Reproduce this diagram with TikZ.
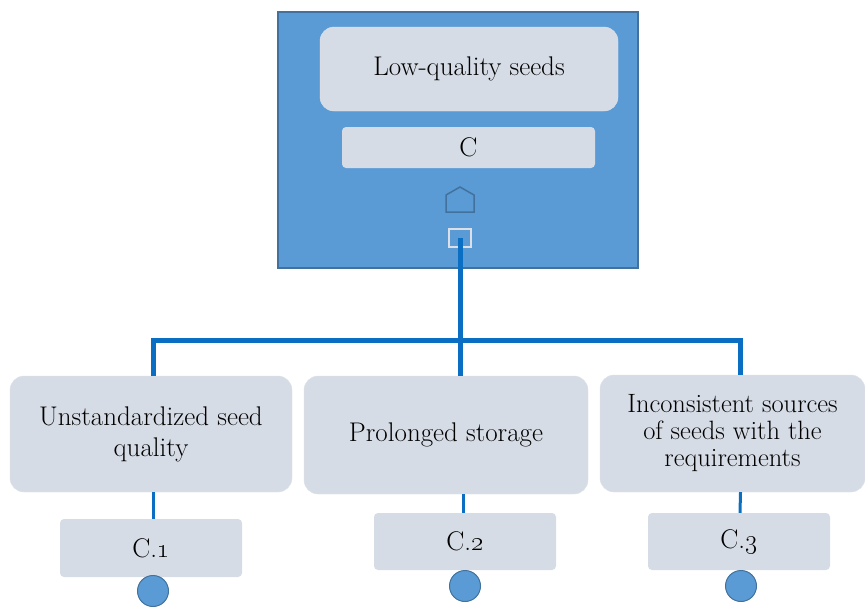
\documentclass[tikz,border=0pt]{standalone}
\usepackage{fix-cm}
\usepackage{tikz}

\definecolor{panelblue}{HTML}{5B9BD5}
\definecolor{paneledge}{HTML}{41719C}
\definecolor{cardgray}{HTML}{D6DCE5}
\definecolor{linkblue}{HTML}{0A6FC2}

\tikzset{
  card/.style={fill=cardgray, draw=cardgray!80!white, rounded corners=14pt,
    align=center, text=black, font=\fontsize{27}{31}\selectfont},
  tag/.style={fill=cardgray, rounded corners=4pt, text=black,
    font=\fontsize{27}{31}\selectfont},
  conn/.style={linkblue, line width=5pt},
  stem/.style={linkblue, line width=3pt},
  dot/.style={circle, fill=panelblue, draw=paneledge, line width=1pt, minimum size=31pt, inner sep=0pt}
}

\begin{document}
\begin{tikzpicture}[x=1pt, y=-1pt]
  \useasboundingbox (0,0) rectangle (865,606);

  % top panel
  \node[fill=panelblue, draw=paneledge, line width=1.5pt, minimum width=360pt, minimum height=256pt] (panel) at (458,140) {};
  \node[card, minimum width=298pt, minimum height=84pt] (goal) at (469,69) {Low-quality seeds};
  \node[tag, minimum width=253pt, minimum height=41pt] (goalcode) at (468.5,147.5) {C};
  \draw[paneledge, line width=1.5pt] (446,212) -- (474,212) -- (474,195) -- (460,187) -- (446,195) -- cycle;
  \node[draw=cardgray!90!white, line width=1.5pt, minimum width=22pt, minimum height=18pt, inner sep=0pt] (sq) at (460,238) {};

  % causes
  \node[card, minimum width=282pt, minimum height=116pt] (cause1) at (151,434) {Unstandardized seed\\quality};
  \node[card, minimum width=284pt, minimum height=118pt] (cause2) at (446,435) {Prolonged storage};
  \node[card, minimum width=265pt, minimum height=117pt, font=\fontsize{26.5}{27}\selectfont] (cause3) at (732.5,433.5) {Inconsistent sources\\of seeds with the\\requirements};

  \node[tag, minimum width=182pt, minimum height=58pt] (code1) at (151,548) {C.\oldstylenums{1}};
  \node[tag, minimum width=182pt, minimum height=57pt] (code2) at (465,541.5) {C.\oldstylenums{2}};
  \node[tag, minimum width=182pt, minimum height=57pt] (code3) at (739,541.5) {C.\oldstylenums{3}};

  \node[dot] (d1) at (153,591) {};
  \node[dot] (d2) at (465,586) {};
  \node[dot] (d3) at (741,586) {};

  % tree links
  \coordinate (junc) at (460,340);
  \draw[conn] (sq.center) -- (junc);
  \draw[conn] (junc) -- (junc |- cause2.north);
  \draw[conn] ([xshift=-2.5pt]junc) -| ([xshift=2pt]cause1.north);
  \draw[conn] ([xshift=2.5pt]junc) -| ([xshift=8pt]cause3.north);

  \draw[stem] ([xshift=2pt]cause1.south) -- ([xshift=2pt]code1.north);
  \draw[stem] ([xshift=17pt]cause2.south) -- ([xshift=-2pt]code2.north);
  \draw[stem] ([xshift=8pt]cause3.south) -- ([xshift=1pt]code3.north);
\end{tikzpicture}
\end{document}
